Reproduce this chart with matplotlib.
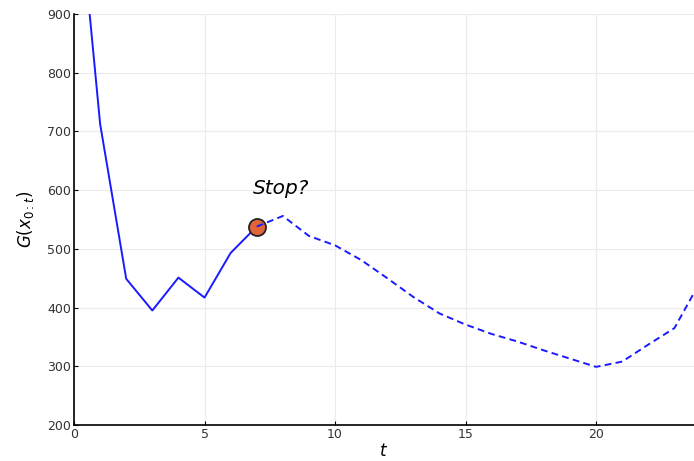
import matplotlib
matplotlib.use("Agg")
import matplotlib.pyplot as plt

t_solid = [0, 1, 2, 3, 4, 5, 6, 7]
g_solid = [1180, 713, 449, 395, 451, 417, 493, 538]
t_dash = [7, 8, 9, 10, 11, 12, 13, 14, 15, 16, 17, 18, 19, 20, 21, 22, 23, 24]
g_dash = [538, 556, 522, 506, 481, 450, 418, 390, 371, 355, 342, 327, 313, 299, 308, 337, 365, 445]
stop_t = [7]
stop_g = [538]
xticks = [0, 5, 10, 15, 20]
yticks = [200, 300, 400, 500, 600, 700, 800, 900]

fig = plt.figure(figsize=(6.94, 4.61), dpi=100)
ax = fig.add_axes([74/694, 36/461, 620/694, 411/461])

blue = "#1a1aff"
ax.plot(t_solid, g_solid, color=blue, lw=1.4, solid_capstyle="round", zorder=2)
ax.scatter(stop_t, stop_g, s=150, color="#e0663a", edgecolors="#222222", linewidths=1.3, zorder=3)
ax.plot(t_dash, g_dash, color=blue, lw=1.4, ls=(0, (3.5, 2.2)), zorder=4)
ax.text(7.95, 603, "Stop?", fontsize=14.5, fontstyle="italic", ha="center", va="center")

ax.set_xlim(0, 23.75)
ax.set_ylim(200, 900)
ax.set_xticks(xticks)
ax.set_yticks(yticks)
ax.grid(True, color="#ebebeb", lw=0.8)
ax.set_axisbelow(True)
for s in ["top", "right"]:
    ax.spines[s].set_visible(False)
for s in ["left", "bottom"]:
    ax.spines[s].set_linewidth(1.2)
ax.tick_params(direction="in", length=3, labelsize=9, labelcolor="#333333", pad=2)
ax.set_xlabel("$t$", fontsize=12, labelpad=1)
ax.set_ylabel("$G(x_{0:t})$", fontsize=12, labelpad=8)

fig.savefig("out.png", dpi=100)
